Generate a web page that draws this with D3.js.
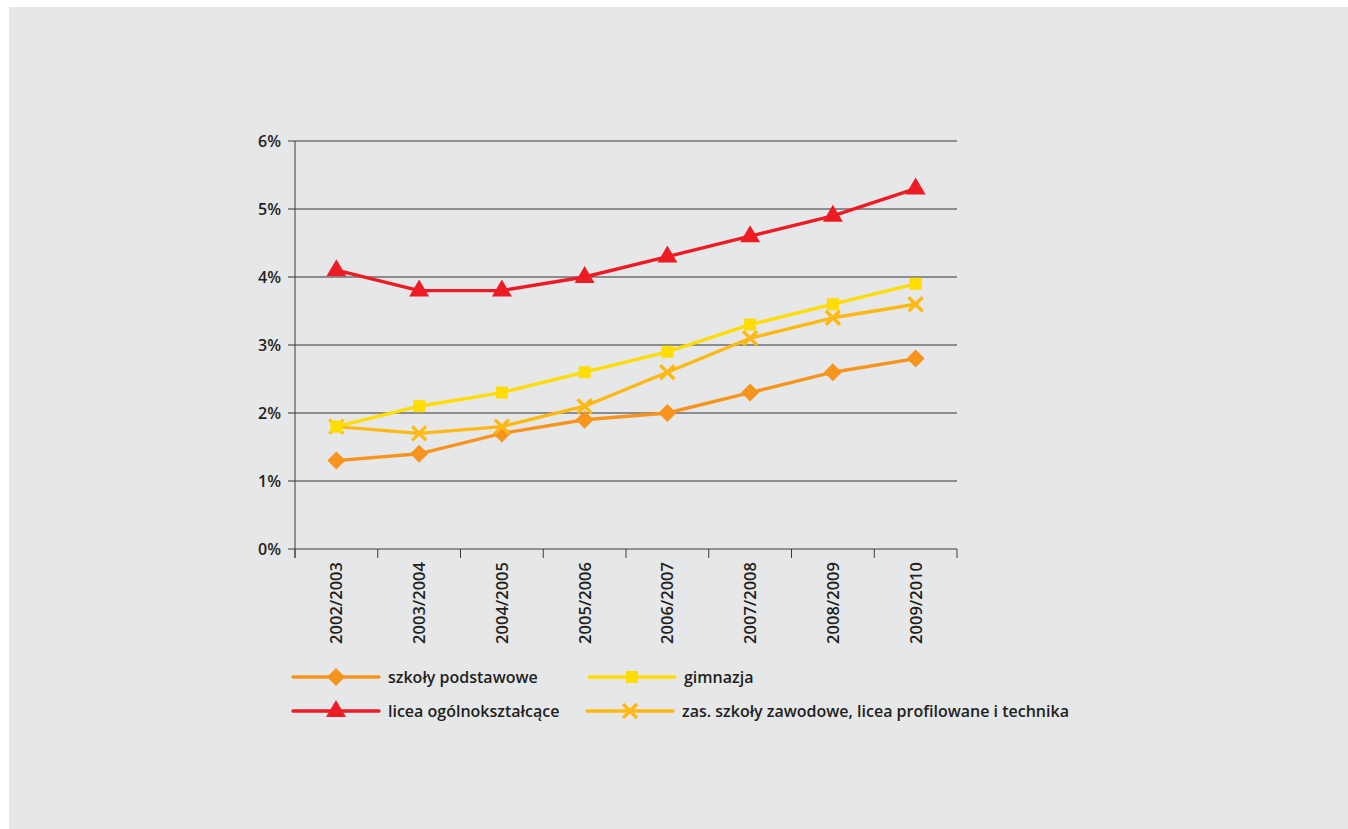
<!DOCTYPE html>
<html><head><meta charset="utf-8">
<script src="https://cdn.jsdelivr.net/npm/d3@7"></script>
<style>
html,body{margin:0;padding:0;background:#fff;}
svg{display:block;}
text{font-family:"Open Sans","DejaVu Sans",sans-serif;fill:#231f20;}
</style></head>
<body>
<svg id="c" width="1348" height="829"></svg>
<script>
const categories = ["2002/2003","2003/2004","2004/2005","2005/2006","2006/2007","2007/2008","2008/2009","2009/2010"];
const yTicks = [0,1,2,3,4,5,6];
const szkolyPodstawowe = [1.3,1.4,1.7,1.9,2.0,2.3,2.6,2.8];
const gimnazja = [1.8,2.1,2.3,2.6,2.9,3.3,3.6,3.9];
const liceaOgolne = [4.1,3.8,3.8,4.0,4.3,4.6,4.9,5.3];
const zawodowe = [1.8,1.7,1.8,2.1,2.6,3.1,3.4,3.6];

const series = [
  {name:"szkoły podstawowe", values:szkolyPodstawowe, color:"#f7941d", marker:"diamond"},
  {name:"gimnazja", values:gimnazja, color:"#ffdd00", marker:"square"},
  {name:"licea ogólnokształcące", values:liceaOgolne, color:"#ed1c24", marker:"triangle"},
  {name:"zas. szkoły zawodowe, licea profilowane i technika", values:zawodowe, color:"#fdb913", marker:"cross"}
];
const drawOrder = [0,3,1,2];

const svg = d3.select("#c");
svg.append("rect").attr("x",9).attr("y",7).attr("width",1339).attr("height",822).attr("fill","#e6e7e8");

const x = d3.scaleBand().domain(categories).range([295,957]);
const y = d3.scaleLinear().domain([0,6]).range([549,141]);

// grid
const g = svg.append("g");
g.selectAll("line.grid").data(yTicks).join("line")
  .attr("x1",288).attr("x2",957)
  .attr("y1",d=>y(d)).attr("y2",d=>y(d))
  .attr("stroke",d=>d===0||d===6?"#3c3c3c":"#6d6e71")
  .attr("stroke-width",d=>d===0||d===6?1:1.6);
g.selectAll("text.yl").data(yTicks).join("text")
  .attr("x",281).attr("y",d=>y(d)+6).attr("text-anchor","end")
  .attr("font-size",16).attr("font-weight",600)
  .text(d=>d+"%");
// y axis line
g.append("line").attr("x1",295).attr("x2",295).attr("y1",141).attr("y2",558).attr("stroke","#3c3c3c").attr("stroke-width",1);
// x ticks at band boundaries
const bounds = categories.map(c=>x(c)).concat([x.range()[1]]);
g.selectAll("line.xt").data(bounds).join("line")
  .attr("x1",d=>d).attr("x2",d=>d).attr("y1",549).attr("y2",558)
  .attr("stroke","#3c3c3c").attr("stroke-width",1);
g.selectAll("text.xl").data(categories).join("text")
  .attr("transform",d=>`translate(${x(d)+x.bandwidth()/2+6},562) rotate(-90)`)
  .attr("text-anchor","end").attr("font-size",16.5).attr("font-weight",600)
  .text(d=>d);

function drawMarker(sel, type, color){
  if(type==="diamond"){
    sel.append("path").attr("d","M0,-9L9,0L0,9L-9,0Z").attr("fill",color);
  } else if(type==="square"){
    sel.append("rect").attr("x",-6).attr("y",-6).attr("width",12).attr("height",12).attr("fill",color);
  } else if(type==="triangle"){
    sel.append("path").attr("d","M0,-11L10,6L-10,6Z").attr("fill",color);
  } else {
    sel.append("path").attr("d","M-7,-7L7,7M-7,7L7,-7").attr("stroke",color).attr("stroke-width",3.4).attr("fill","none");
  }
}

const line = d3.line().x((d,i)=>x(categories[i])+x.bandwidth()/2).y(d=>y(d));
drawOrder.forEach(si=>{
  const s = series[si];
  svg.append("path").attr("d",line(s.values)).attr("fill","none").attr("stroke",s.color).attr("stroke-width",3.4).attr("stroke-linejoin","round");
  s.values.forEach((v,i)=>{
    const m = svg.append("g").attr("transform",`translate(${x(categories[i])+x.bandwidth()/2},${y(v)})`);
    drawMarker(m, s.marker, s.color);
  });
});

// legend
const legendPos = [
  {lx:293, ly:677},
  {lx:589, ly:677},
  {lx:293, ly:711},
  {lx:587, ly:711}
];
series.forEach((s,i)=>{
  const p = legendPos[i];
  const lg = svg.append("g").attr("transform",`translate(${p.lx},${p.ly})`);
  lg.append("line").attr("x1",0).attr("x2",86).attr("y1",0).attr("y2",0).attr("stroke",s.color).attr("stroke-width",3.4).attr("stroke-linecap","round");
  const m = lg.append("g").attr("transform","translate(43,0)");
  drawMarker(m, s.marker, s.color);
  lg.append("text").attr("x",95).attr("y",6).attr("font-size",16).attr("font-weight",600).text(s.name);
});
</script>
</body></html>
